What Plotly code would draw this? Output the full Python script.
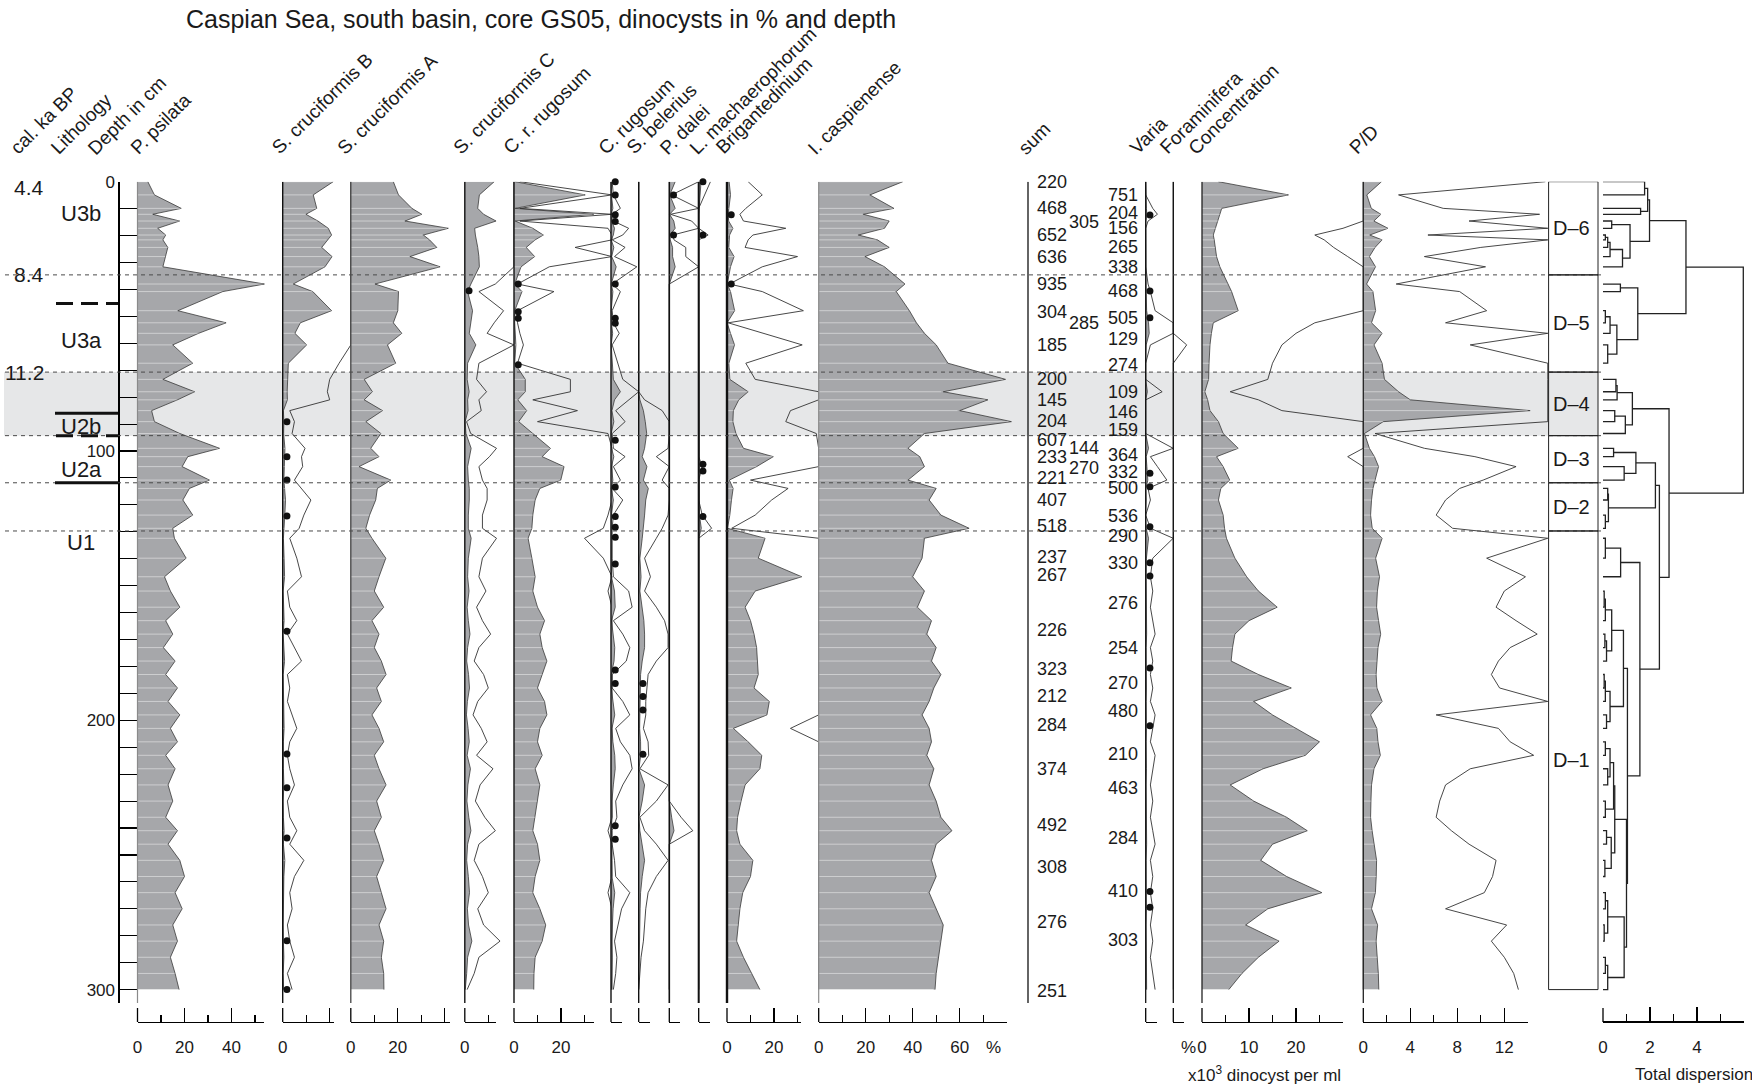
import plotly.graph_objects as go

W, H = 1752, 1088
Y0, K, DMAX = 181.7, 2.693, 305.0   # depth 0 at y=181.7 px, 2.693 px per cm
AXIS_Y = 1022                        # bottom scale bars (px from top)
FONT = "Liberation Sans"
GRAY = "#a6a7aa"
BAND = "#e6e7e8"

# ---------------- data ----------------
DEPTHS = [0, 4.9, 9.9, 12.1, 14.6, 17.3, 19.8, 21.6, 24.4, 27.8,
          31.6, 38.0, 40.8, 47.9, 52.4, 56.3, 60.6, 67.4, 73.4, 78.0,
          81.0, 85.0, 89.1, 93.5, 99.0, 102.1, 105.8, 110.8, 113.9, 118.2,
          123.8, 128.7, 132.4, 139.8, 146.7, 152, 158, 163, 168, 173,
          178, 183, 188, 193, 198, 203, 208, 213, 218, 224,
          230, 236, 241, 246, 252, 258, 264, 270, 276, 282,
          288, 294, 300]

P_PSILATA = [4.4, 7.2, 18.6, 6.5, 17.9, 8.6, 12.0, 10.8, 12.9, 12.0,
             10.8, 54.0, 36.3, 17.2, 37.7, 26.0, 15.0, 23.5, 10.8, 24.3,
             17.0, 6.0, 7.2, 18.0, 34.9, 21.4, 19.0, 30.6, 22.1, 19.3,
             23.5, 15.0, 15.7, 20.7, 11.5, 14.0, 18.0, 12.0, 15.0, 11.0,
             16.0, 12.0, 17.0, 13.0, 18.0, 14.0, 17.0, 12.0, 16.0, 13.0,
             15.0, 12.0, 17.0, 13.0, 18.0, 20.0, 16.0, 19.0, 15.0, 17.0,
             14.0, 16.0, 17.7]
S_CRUC_B = [21.5, 13.0, 14.5, 9.9, 15.0, 19.4, 20.8, 19.0, 16.6, 21.0,
            18.0, 4.5, 12.8, 20.8, 7.5, 5.2, 10.2, 2.4, 2.0, 1.9,
            2.0, 0.3, 0.5, 0.4, 0.95, 0.8, 0.85, 0.5, 0.8, 1.2,
            0.9, 0.7, 0.3, 0.6, 0.8, 0.2, 0.3, 0.6, 0.2, 0.5,
            0.8, 0.2, 0.3, 0.2, 0.4, 0.6, 0.3, 0.2, 0.3, 0.5,
            0.2, 0.3, 0.6, 0.3, 0.9, 0.5, 0.3, 0.4, 0.2, 0.3,
            0.5, 0.2, 0.4]
S_CRUC_A = [18.1, 20.3, 26.0, 30.2, 23.1, 41.5, 30.9, 33.5, 36.6, 25.2,
            38.0, 10.3, 20.3, 20.0, 18.1, 21.7, 15.6, 19.1, 5.7, 9.2,
            5.7, 13.5, 6.4, 12.8, 8.5, 12.0, 3.5, 17.0, 11.3, 10.6,
            8.0, 6.4, 9.0, 14.9, 12.0, 10.0, 14.0, 9.0, 12.0, 10.0,
            13.0, 15.0, 11.0, 13.0, 9.0, 12.0, 14.0, 10.0, 12.0, 15.0,
            11.0, 13.0, 10.0, 12.0, 14.0, 11.0, 13.0, 15.0, 12.0, 14.0,
            13.0, 14.0, 14.1]
S_CRUC_C = [12.5, 6.2, 5.5, 8.0, 13.3, 4.2, 4.5, 5.0, 5.5, 6.0,
            6.2, 2.6, 1.2, 3.3, 2.5, 1.9, 4.7, 1.2, 1.0, 1.85,
            1.2, 1.4, 0.15, 0.5, 2.7, 2.1, 1.2, 1.5, 1.9, 1.9,
            1.5, 1.5, 2.7, 1.5, 1.2, 1.8, 1.0, 1.5, 2.2, 1.2,
            0.8, 1.6, 2.0, 1.1, 0.7, 1.4, 1.9, 1.0, 2.4, 1.3,
            0.9, 1.7, 2.6, 1.2, 0.8, 1.5, 2.0, 1.1, 1.6, 3.0,
            1.2, 0.8, 0.2]
C_R_RUGOSUM = [0.5, 30.3, 0.5, 33.9, 0.5, 8.0, 12.5, 9.0, 5.2, 8.8,
               3.0, 0.3, 3.4, 0.3, 0.3, 0.5, 0.8, 0.3, 4.8, 4.8,
               1.6, 5.4, 2.0, 8.0, 15.5, 12.0, 21.3, 19.9, 11.0, 9.0,
               8.0, 7.6, 6.0, 7.6, 9.0, 8.0, 10.0, 13.0, 11.0, 12.0,
               14.0, 12.0, 10.0, 13.0, 14.0, 11.0, 10.0, 12.0, 9.0, 11.0,
               10.0, 9.0, 8.0, 10.0, 11.0, 9.0, 8.0, 11.0, 13.5, 12.0,
               9.0, 8.5, 8.4]
C_RUGOSUM = [0.1, 0.2, 0.8, 0.1, 0.2, 1.5, 1.0, 0.1, 1.2, 0.3,
             2.2, 0.1, 0.8, 0.1, 0.2, 0.7, 0.1, 0.6, 1.0, 4.0,
             1.5, 0.4, 1.2, 0.1, 0.2, 1.2, 0.2, 0.8, 0.1, 1.0,
             0.2, 0.1, 0.1, 0.1, 0.2, 1.5, 1.8, 0.2, 1.0, 1.6,
             1.3, 0.1, 0.1, 1.0, 1.6, 0.4, 0.8, 1.6, 1.8, 1.0,
             0.4, 0.5, 0.1, 0.1, 0.3, 0.4, 1.6, 0.9, 0.6, 0.3,
             0.5, 0.4, 0.2]
S_BELERIUS = [0, 0, 0, 0, 0, 0, 0, 0, 0, 0,
              0, 0, 0, 0, 0, 0, 0, 0, 0, 0,
              0.5, 2.0, 2.8, 3.4, 2.5, 1.5, 3.5, 2.0, 4.1, 3.0,
              2.5, 2.0, 1.5, 0.5, 1.0, 0.5, 1.5, 2.2, 2.5, 2.5,
              1.5, 0.8, 0.7, 0.6, 0.6, 0.4, 0.8, 0.85, 0.1, 2.5,
              1.5, 0.1, 0.5, 1.5, 2.5, 1.5, 0.8, 0.6, 0.5, 0.4,
              0.2, 0.1, 0.0]
P_DALEI = [2.5, 0.2, 2.5, 0.1, 1.9, 2.5, 0.3, 0.4, 1.4, 1.4,
           2.5, 0, 0, 0, 0, 0, 0, 0, 0, 0,
           0, 0, 0, 0, 0, 0, 0, 0, 0, 0,
           0, 0, 0, 0, 0, 0, 0, 0, 0, 0,
           0, 0, 0, 0, 0, 0, 0, 0, 0, 0,
           0, 1.0, 2.0, 0, 0, 0, 0, 0, 0, 0,
           0, 0, 0]
L_MACHAEROPHORUM = [1.0, 0.5, 0, 0, 0, 0, 0.8, 0, 0, 0,
                    0, 0, 0, 0, 0, 0, 0, 0, 0, 0,
                    0, 0, 0, 0, 0, 0, 0.3, 0, 0, 0,
                    0.3, 1.1, 0, 0, 0, 0, 0, 0, 0, 0,
                    0, 0, 0, 0, 0, 0, 0, 0, 0, 0,
                    0, 0, 0, 0, 0, 0, 0, 0, 0, 0,
                    0, 0, 0]
BRIGANTEDINIUM = [0.9, 1.5, 0.8, 0.55, 0.7, 2.5, 1.1, 0.9, 0.77, 3.0,
                  1.5, 0.1, 1.5, 3.25, 0.05, 1.5, 3.2, 0.8, 1.2, 9.0,
                  5.0, 2.7, 2.5, 3.8, 7.0, 19.7, 12.6, 1.0, 2.6, 1.9,
                  1.2, 0.2, 16.2, 13.3, 31.8, 12.0, 7.7, 10.0, 11.5, 12.6,
                  13.0, 13.3, 11.5, 18.0, 17.0, 2.7, 9.0, 14.8, 14.0, 7.7,
                  6.0, 4.5, 4.1, 5.5, 11.0, 10.0, 6.7, 5.5, 4.8, 4.1,
                  7.0, 10.5, 14.0]
I_CASPIENENSE = [35.8, 21.8, 32.0, 19.0, 30.0, 28.0, 16.9, 25.0, 30.0, 19.7,
                 28.0, 36.7, 33.0, 38.6, 41.6, 45.0, 50.0, 55.0, 79.5, 53.0,
                 72.0, 60.0, 82.0, 45.0, 38.0, 43.0, 45.0, 38.0, 50.0, 47.0,
                 52.0, 64.0, 45.0, 44.0, 40.0, 45.0, 42.0, 48.0, 46.0, 50.0,
                 48.0, 52.0, 49.0, 47.0, 44.0, 47.0, 48.0, 46.0, 49.0, 47.0,
                 50.0, 52.0, 56.7, 50.0, 48.0, 50.0, 47.0, 50.0, 53.0, 52.0,
                 51.0, 50.0, 49.5]
VARIA = [0.0, 0.0, 0.3, 0.5, 0.1, 0.0, 0.0, 0.0, 0.0, 0.0,
         0.0, 0.1, 0.2, 0.4, 1.2, 1.5, 0.2, 0.0, 0.0, 0.7,
         0.0, 0.0, 0.0, 0.0, 1.2, 0.2, 0.5, 0.9, 0.1, 0.2,
         0.0, 0.2, 1.2, 0.3, 0.2, 0.3, 0.2, 0.3, 0.4, 0.2,
         0.3, 0.2, 0.3, 0.2, 0.4, 0.3, 0.2, 0.4, 0.3, 0.2,
         0.3, 0.2, 0.3, 0.4, 0.2, 0.3, 0.2, 0.3, 0.2, 0.3,
         0.2, 0.3, 0.4]
FORAMINIFERA = [0, 0, 0, 0, 0, 0, 0, 0, 0, 0,
                0, 0, 0, 0, 0, 0, 5.7, 0, 0, 0,
                0, 0, 0, 0, 0, 0, 0, 0, 0, 0,
                0, 0, 0, 0, 0, 0, 0, 0, 0, 0,
                0, 0, 0, 0, 0, 0, 0, 0, 0, 0,
                0, 0, 0, 0, 0, 0, 0, 0, 0, 0,
                0, 0, 0]
CONCENTRATION = [3.5, 18.4, 4.2, 3.8, 3.5, 3.0, 2.4, 2.6, 2.8, 3.1,
                 3.8, 5.5, 6.3, 7.7, 2.4, 2.0, 1.7, 1.5, 1.4, 0.6,
                 1.2, 1.7, 3.5, 4.5, 7.7, 3.1, 4.5, 5.9, 4.0, 3.5,
                 4.5, 4.8, 5.2, 7.0, 9.5, 12.0, 16.0, 10.0, 7.0, 6.5,
                 6.2, 12.0, 19.0, 11.0, 15.0, 20.0, 25.0, 22.0, 13.0, 6.0,
                 11.0, 18.0, 22.4, 15.0, 12.5, 18.0, 25.5, 14.0, 9.3, 16.4,
                 12.0, 8.5, 5.7]
P_D_RATIO = [1.55, 0.3, 0.68, 1.5, 0.9, 2.1, 0.55, 1.6, 1.0, 0.52,
             1.04, 0.28, 0.82, 1.05, 0.7, 1.6, 0.91, 1.6, 1.8, 3.0,
             4.0, 14.2, 1.7, 0.1, 0.52, 0.95, 1.3, 1.02, 0.82, 0.7,
             0.62, 0.76, 1.6, 1.05, 1.38, 1.2, 1.13, 1.3, 1.48, 1.25,
             1.15, 1.09, 1.16, 1.6, 0.62, 1.15, 1.25, 1.45, 0.91, 0.7,
             0.65, 0.62, 0.75, 0.9, 1.13, 1.1, 1.03, 0.7, 1.22, 1.09,
             1.2, 1.28, 1.32]

# presence (<1 %) dots, depth in cm
DOTS_S_CRUC_B = [89.1, 102.1, 110.8, 124.1, 166.9, 212.5, 225, 243.7, 281.9, 300]
DOTS_S_CRUC_C = [40.5]
DOTS_C_R_RUGOSUM = [38, 48.3, 50.7, 68]
DOTS_C_RUGOSUM = [0, 4.9, 12.3, 14.8, 38, 50.7, 52.6, 96, 113.4, 124.3, 128.3,
                  132, 142, 181.3, 186.3, 239.2, 244.2]
DOTS_S_BELERIUS = [186.3, 191.2, 196.2, 212.6]
DOTS_P_DALEI = [4.9, 19.8]
DOTS_L_MACH = [0, 19.8, 104.9, 107.4, 124.3]
DOTS_BRIG = [12.3, 38]
DOTS_VARIA = [12.4, 40.6, 50.5, 108.3, 113.3, 128.1, 141.5, 146.4, 180.6, 202, 263.6, 269.4]

# counted sums (value, depth)
SUM_MAIN = [(220, 0), (468, 9.9), (652, 19.8), (636, 27.8), (935, 38), (304, 48.3),
            (185, 60.6), (200, 73.3), (145, 81), (204, 88.9), (607, 95.9), (233, 102.1),
            (221, 110.1), (407, 118.2), (518, 127.8), (237, 139.2), (267, 146),
            (226, 166.5), (323, 181), (212, 191), (284, 201.8), (374, 218), (492, 239),
            (308, 254.5), (276, 274.8), (251, 300.5)]
SUM_MID = [(305, 14.8), (285, 52.3), (144, 98.9), (270, 106.3)]
SUM_RIGHT = [(751, 4.9), (204, 11.5), (156, 17.3), (265, 24.4), (338, 31.6), (468, 40.5),
             (505, 50.5), (129, 58.5), (274, 68.1), (109, 78), (146, 85.4), (159, 92.2),
             (364, 101.5), (332, 107.7), (500, 113.9), (536, 124), (290, 131.6), (330, 141.5),
             (276, 156.6), (254, 173.2), (270, 186), (480, 196.4), (210, 212.5), (463, 225),
             (284, 243.7), (410, 263.2), (303, 281.5)]

# zones
ZONE_BOUNDS = [0, 34.6, 70.7, 94.3, 111.8, 129.7, 300]
ZONE_NAMES = ["D\u20136", "D\u20135", "D\u20134", "D\u20133", "D\u20132", "D\u20131"]
BAND_ZONE = (70.7, 94.3)
AGE_LABELS = [("4.4", 2.0), ("8.4", 34.6), ("11.2", 70.7)]
LITH_UNITS = [("U3b", 11.8), ("U3a", 58.8), ("U2b", 91.0), ("U2a", 107.0), ("U1", 134.0)]
LITH_SOLID = [86.0, 111.8]
LITH_DASHED = [45.2, 94.3]

# CONISS-style dendrogram: (child a, child b, total dispersion); numbers = leaf depth
DENDRO = [
    (0, 4.9, 1.77), (9.9, 12.1, 1.6), ("n0", "n1", 1.9), (14.6, 17.3, 0.37),
    (19.8, 21.6, 0.1), ("n4", 24.4, 0.2), ("n5", 27.8, 0.3), ("n6", 31.6, 0.83),
    ("n3", "n7", 1.15), ("n2", "n8", 1.98),
    (38, 40.8, 0.74), (47.9, 52.4, 0.1), ("n11", 56.3, 0.3), (60.6, 67.4, 0.2),
    ("n12", "n13", 0.59), ("n10", "n14", 1.48), ("n9", "n15", 3.53),
    (73.4, 78, 0.55), ("n17", 81, 0.6), (85, 89.1, 0.5), ("n19", 93.5, 0.95),
    ("n18", "n20", 1.25),
    (99, 102.1, 0.45), (105.8, 110.8, 0.9), ("n22", "n23", 1.4),
    (113.9, 118.2, 0.2), (123.8, 128.7, 0.1), ("n25", "n26", 0.23), ("n24", "n27", 2.23),
    (132.4, 139.8, 0.1), ("n29", 146.7, 0.75),
    (152, 158, 0.05), ("n31", 163, 0.1), (168, 173, 0.08), ("n33", 178, 0.15),
    ("n32", "n34", 0.37), (183, 188, 0.05), ("n36", 193, 0.1), (198, 203, 0.15),
    ("n37", "n38", 0.3), ("n35", "n39", 0.87),
    (208, 213, 0.1), (218, 224, 0.2), ("n41", "n42", 0.3), (230, 236, 0.1),
    ("n43", "n44", 0.45), (241, 246, 0.15), (252, 258, 0.08), ("n46", "n47", 0.35),
    ("n45", "n48", 0.5), (264, 270, 0.1), (276, 282, 0.05), ("n50", "n51", 0.2),
    (288, 294, 0.1), ("n53", 300, 0.2), ("n52", "n54", 0.9), ("n49", "n55", 1.0),
    ("n40", "n56", 1.04), ("n30", "n57", 1.57), ("n28", "n58", 2.4),
    ("n21", "n59", 2.81), ("n16", "n60", 5.97),
]

# ---------------- panel layout (styling) ----------------
P = 2.35  # px per percent
PANELS = [
    dict(v=P_PSILATA, z=137.5, s=P, end=54, maj=[0, 20, 40], lab=["0", "20", "40"], mn=[10, 30, 50],
         fill=True, zc="#8a8a8a", zw=1.2, stripes=True),
    dict(v=S_CRUC_B, z=282.7, s=P, end=22, maj=[0, 20], lab=["0", " "], mn=[10],
         fill=True, ex=(10, 29), dots=DOTS_S_CRUC_B, zc="#111", zw=1.4, stripes=True),
    dict(v=S_CRUC_A, z=350.8, s=P, end=42, maj=[0, 20, 40], lab=["0", "20", " "], mn=[10, 30],
         fill=True, zc="#444", zw=1.3, stripes=True),
    dict(v=S_CRUC_C, z=464.8, s=P, end=13.3, maj=[0], lab=["0"], mn=[10],
         fill=True, ex=(5, 20.9), dots=DOTS_S_CRUC_C, zc="#111", zw=1.4),
    dict(v=C_R_RUGOSUM, z=514.0, s=P, end=34, maj=[0, 20], lab=["0", "20"], mn=[10, 30],
         fill=True, ex=(5, 41.7), dots=DOTS_C_R_RUGOSUM, zc="#111", zw=1.4, stripes=True),
    dict(v=C_RUGOSUM, z=611.0, s=P, end=4.7, maj=[0], lab=[" "], mn=[],
         fill=True, ex=(5, 11.8), dots=DOTS_C_RUGOSUM, zc="#111", zw=1.4),
    dict(v=S_BELERIUS, z=638.7, s=P, end=4.7, maj=[0], lab=[" "], mn=[],
         fill=True, ex=(5, 13.0), dots=DOTS_S_BELERIUS, zc="#111", zw=1.4),
    dict(v=P_DALEI, z=669.3, s=P, end=4.7, maj=[0], lab=[" "], mn=[],
         fill=True, ex=(5, 12.5), dots=DOTS_P_DALEI, zc="#111", zw=1.6),
    dict(v=L_MACHAEROPHORUM, z=698.7, s=P, end=4.7, maj=[0], lab=[" "], mn=[],
         fill=True, ex=(5, 12.0), dots=DOTS_L_MACH, zc="#111", zw=2.0),
    dict(v=BRIGANTEDINIUM, z=727.0, s=P, end=31.5, maj=[0, 20], lab=["0", "20"], mn=[10, 30],
         fill=True, ex=(10, 39.0), dots=DOTS_BRIG, zc="#111", zw=2.4, stripes=True),
    dict(v=I_CASPIENENSE, z=818.7, s=P, end=80, maj=[0, 20, 40, 60, 80], lab=["0", "20", "40", "60", " "],
         mn=[10, 30, 50, 70], fill=True, zc="#8a8a8a", zw=1.2, stripes=True),
    dict(v=VARIA, z=1145.7, s=P, end=4.7, maj=[0], lab=[" "], mn=[],
         fill=True, ex=(10, 11.7), dots=DOTS_VARIA, zc="#111", zw=1.3),
    dict(v=FORAMINIFERA, z=1173.3, s=P, end=4.7, maj=[0], lab=[" "], mn=[],
         fill=False, ex=(1, 100), zc="#111", zw=1.3),
    dict(v=CONCENTRATION, z=1202.0, s=4.7, end=30, maj=[0, 10, 20, 30], lab=["0", "10", "20", " "],
         mn=[5, 15, 25], fill=True, ex=(10, 34.3), zc="#222", zw=1.3, stripes=True),
    dict(v=P_D_RATIO, z=1363.3, s=11.75, end=14, maj=[0, 4, 8, 12], lab=["0", "4", "8", "12"],
         mn=[2, 6, 10, 14], fill=True, ex=(10, 15.7), zc="#222", zw=1.3, stripes=True),
    dict(v=None, z=1603.0, s=23.5, end=6, maj=[0, 2, 4, 6], lab=["0", "2", "4", " "], mn=[1, 3, 5],
         dendro=True, axw=2.2),
]

HEADERS = [("cal. ka BP", 3), ("Lithology", 44), ("Depth in cm", 81), ("P. psilata", 124),
           ("S. cruciformis B", 265), ("S. cruciformis A", 330), ("S. cruciformis C", 446),
           ("C. r. rugosum", 496), ("C. rugosum", 591), ("S. belerius", 620), ("P. dalei", 653),
           ("L. machaerophorum", 683), ("Brigantedinium", 709), ("I. caspienense", 801),
           ("sum", 1011), ("Varia", 1123), ("Foraminifera", 1153), ("Concentration", 1181),
           ("P/D", 1342)]

# ---------------- build ----------------
def px(x):
    return x / W

def py(y):
    return 1 - y / H

def xname(n):
    return "xaxis" if n == 1 else f"xaxis{n}"

def xref(n):
    return "x" if n == 1 else f"x{n}"

fig = go.Figure()
layout = {}
shapes = []
annos = []
NP = len(PANELS)
TXT = "#1a1a1a"

for i, p in enumerate(PANELS):
    dn, vn = i + 1, i + 1 + NP
    z, s = p["z"], p["s"]
    layout[xname(dn)] = dict(domain=[0, 1], range=[-z / s, (W - z) / s], visible=False,
                             anchor="y", fixedrange=True, automargin=False)
    layout[xname(vn)] = dict(
        domain=[px(z), px(z + p["end"] * s)], range=[0, p["end"]], anchor="free",
        position=py(AXIS_Y), side="bottom", showline=True, linecolor="black",
        linewidth=p.get("axw", 1.2), ticks="inside", ticklen=14, tickwidth=1.2,
        tickcolor="black", tickvals=p["maj"], ticktext=p["lab"],
        minor=dict(tickvals=p["mn"], ticks="inside", ticklen=7, tickwidth=1.1,
                   tickcolor="black", showgrid=False),
        showgrid=False, zeroline=False, fixedrange=True, ticklabelstandoff=9,
        automargin=False, tickfont=dict(size=17, family=FONT, color=TXT))
    fig.add_trace(go.Scatter(x=[None], y=[None], xaxis=xref(vn), yaxis="y",
                             showlegend=False, hoverinfo="skip"))
    # zero tick of the scale bar (plotly drops inside ticks on the axis end)
    shapes.append(dict(type="line", xref=xref(dn), yref="paper", x0=0, x1=0,
                       y0=py(AXIS_Y), y1=py(AXIS_Y - 14),
                       line=dict(color="black", width=1.3)))

    if p.get("dendro"):
        pos = {}
        segx, segy = [], []
        for k, (a, b, h) in enumerate(DENDRO):
            ya, ha = (pos[a] if isinstance(a, str) else (a, 0.0))
            yb, hb = (pos[b] if isinstance(b, str) else (b, 0.0))
            segx += [ha, h, h, hb, None]
            segy += [ya, ya, yb, yb, None]
            pos[f"n{k}"] = ((ya + yb) / 2.0, h)
        fig.add_trace(go.Scatter(x=segx, y=segy, xaxis=xref(dn), yaxis="y", mode="lines",
                                 line=dict(color="#222", width=1.3), showlegend=False,
                                 hoverinfo="skip"))
        continue

    v = p["v"]
    if p.get("fill"):
        fig.add_trace(go.Scatter(x=v, y=DEPTHS, xaxis=xref(dn), yaxis="y", mode="lines",
                                 fill="tozerox", fillcolor=GRAY,
                                 line=dict(color="#3a3a3a", width=0.8),
                                 showlegend=False, hoverinfo="skip"))
        if p.get("stripes"):
            sx, sy = [], []
            for d, val in zip(DEPTHS, v):
                if val > 0.5:
                    sx += [0, val * 0.985, None]
                    sy += [d, d, None]
            fig.add_trace(go.Scatter(x=sx, y=sy, xaxis=xref(dn), yaxis="y", mode="lines",
                                     line=dict(color="rgba(255,255,255,0.45)", width=1),
                                     showlegend=False, hoverinfo="skip"))
    if p.get("ex"):
        f, c = p["ex"]
        ex = [min(val * f, c) for val in v]
        fig.add_trace(go.Scatter(x=ex, y=DEPTHS, xaxis=xref(dn), yaxis="y", mode="lines",
                                 line=dict(color="#333", width=0.9),
                                 showlegend=False, hoverinfo="skip"))
    if p.get("dots"):
        fig.add_trace(go.Scatter(x=[1.8] * len(p["dots"]), y=p["dots"], xaxis=xref(dn),
                                 yaxis="y", mode="markers",
                                 marker=dict(size=7, color="#111"),
                                 showlegend=False, hoverinfo="skip", cliponaxis=False))
    shapes.append(dict(type="line", xref=xref(dn), yref="y", x0=0, x1=0, y0=0, y1=DMAX,
                       line=dict(color=p["zc"], width=p["zw"]), layer="above"))

# band and zone lines
shapes.append(dict(type="rect", xref="paper", yref="y", x0=px(4), x1=px(1598),
                   y0=BAND_ZONE[0], y1=BAND_ZONE[1], fillcolor=BAND, line=dict(width=0),
                   layer="below"))
for zb in ZONE_BOUNDS[1:-1]:
    shapes.append(dict(type="line", xref="paper", yref="y", x0=px(5), x1=px(1602),
                       y0=zb, y1=zb, line=dict(color="#4a4a4a", width=1, dash="4px,4px"),
                       layer="above"))
# zone boxes
for k in range(len(ZONE_NAMES)):
    t, b = ZONE_BOUNDS[k], ZONE_BOUNDS[k + 1]
    shapes.append(dict(type="rect", xref="paper", yref="y", x0=px(1548.6), x1=px(1598),
                       y0=t, y1=b, line=dict(color="#222", width=1), layer="above"))
    annos.append(dict(x=px(1571), y=(t + b) / 2, xref="paper", yref="y", text=ZONE_NAMES[k],
                      showarrow=False, font=dict(size=20, family=FONT, color=TXT),
                      xanchor="center", yanchor="middle"))
# sum column line
shapes.append(dict(type="line", xref="paper", yref="y", x0=px(1028), x1=px(1028),
                   y0=0, y1=DMAX, line=dict(color="#111", width=1.3)))
# lithology markers
for d in LITH_SOLID:
    shapes.append(dict(type="line", xref="paper", yref="y", x0=px(55), x1=px(118),
                       y0=d, y1=d, line=dict(color="#111", width=3)))
for d in LITH_DASHED:
    shapes.append(dict(type="line", xref="paper", yref="y", x0=px(56), x1=px(118),
                       y0=d, y1=d, line=dict(color="#111", width=3, dash="17px,8px")))

# text columns
for val, d in SUM_MAIN:
    annos.append(dict(x=px(1035), y=d, xref="paper", yref="y", text=str(val), showarrow=False,
                      xanchor="left", yanchor="middle", font=dict(size=18, family=FONT, color=TXT)))
for val, d in SUM_MID:
    annos.append(dict(x=px(1101), y=d, xref="paper", yref="y", text=str(val), showarrow=False,
                      xanchor="right", yanchor="middle", font=dict(size=18, family=FONT, color=TXT)))
for val, d in SUM_RIGHT:
    annos.append(dict(x=px(1140), y=d, xref="paper", yref="y", text=str(val), showarrow=False,
                      xanchor="right", yanchor="middle", font=dict(size=18, family=FONT, color=TXT)))
for t, d in AGE_LABELS:
    annos.append(dict(x=px(46), y=d, xref="paper", yref="y", text=t, showarrow=False,
                      xanchor="right", yanchor="middle", font=dict(size=21, family=FONT, color=TXT)))
for t, d in LITH_UNITS:
    annos.append(dict(x=px(81), y=d, xref="paper", yref="y", text=t, showarrow=False,
                      xanchor="center", yanchor="middle", font=dict(size=22, family=FONT, color=TXT)))
for t, x in HEADERS:
    annos.append(dict(x=px(x), y=py(161), xref="paper", yref="paper", text=t, showarrow=False,
                      textangle=-45, xanchor="left", yanchor="bottom",
                      font=dict(size=19, family=FONT, color=TXT)))
annos.append(dict(x=px(541), y=py(19), xref="paper", yref="paper",
                  text="Caspian Sea, south basin, core GS05, dinocysts in % and depth",
                  showarrow=False, xanchor="center", yanchor="middle",
                  font=dict(size=25, family=FONT, color=TXT)))
annos.append(dict(x=px(993), y=py(1047), xref="paper", yref="paper", text="%", showarrow=False,
                  xanchor="center", yanchor="middle", font=dict(size=17, family=FONT, color=TXT)))
annos.append(dict(x=px(1188), y=py(1047), xref="paper", yref="paper", text="%", showarrow=False,
                  xanchor="center", yanchor="middle", font=dict(size=17, family=FONT, color=TXT)))
annos.append(dict(x=px(1264), y=py(1074), xref="paper", yref="paper",
                  text="x10<sup>3</sup> dinocyst per ml", showarrow=False,
                  xanchor="center", yanchor="middle", font=dict(size=17, family=FONT, color=TXT)))
annos.append(dict(x=px(1694), y=py(1074), xref="paper", yref="paper", text="Total dispersion",
                  showarrow=False, xanchor="center", yanchor="middle",
                  font=dict(size=17, family=FONT, color=TXT)))

layout["yaxis"] = dict(
    domain=[py(Y0 + DMAX * K), py(Y0)], range=[DMAX, 0], anchor="free", position=px(118.4),
    showline=True, linecolor="black", linewidth=1.3, ticks="inside", ticklen=17,
    tickwidth=1.1, tickcolor="black", tickvals=[0, 100, 200, 300],
    ticktext=["0", "100", "200", "300"],
    minor=dict(tickvals=[d for d in range(10, 301, 10) if d % 100], ticks="inside",
               ticklen=17, tickwidth=1.1, tickcolor="black", showgrid=False),
    showgrid=False, zeroline=False, fixedrange=True, automargin=False,
    tickfont=dict(size=17, family=FONT, color=TXT))

fig.update_layout(template="none", width=W, height=H,
                  margin=dict(l=0, r=0, t=0, b=0, pad=0, autoexpand=False),
                  paper_bgcolor="white", plot_bgcolor="rgba(0,0,0,0)",
                  showlegend=False, shapes=shapes, annotations=annos,
                  font=dict(family=FONT, color=TXT), **layout)
fig.write_html("out.html", include_plotlyjs=True,
               config={"displayModeBar": False, "staticPlot": True},
               post_script="document.body.style.margin='0px';"
                           "document.body.style.overflow='hidden';")
